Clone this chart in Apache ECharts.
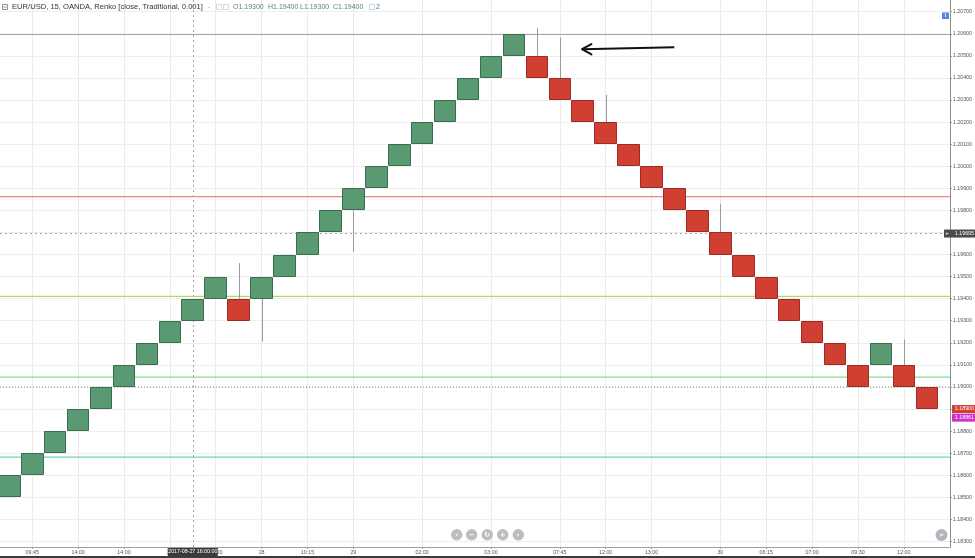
<!DOCTYPE html>
<html><head><meta charset="utf-8">
<script src="https://cdn.jsdelivr.net/npm/echarts@6/dist/echarts.min.js"></script>
<style>html,body{margin:0;padding:0;background:#fff}#c{width:975px;height:558px}</style>
</head><body><div id="c"></div>
<script>
// ---------------- data ----------------
const timeLabels = ['', '09:45', '', '14:00', '', '14:00', '', '27', '', '20:00',
  '', '28', '', '10:15', '', '29', '', '', '02:00', '',
  '', '03:00', '', '', '07:45', '', '12:00', '', '13:00', '',
  '', '30', '', '06:15', '', '07:00', '', '09:30', '', '12:00', ''];
const brickOpen = [1.185, 1.186, 1.187, 1.188, 1.189, 1.190, 1.191, 1.192, 1.193, 1.194,
  1.194, 1.194, 1.195, 1.196, 1.197, 1.198, 1.199, 1.200, 1.201, 1.202,
  1.203, 1.204, 1.205, 1.205, 1.204, 1.203, 1.202, 1.201, 1.200, 1.199,
  1.198, 1.197, 1.196, 1.195, 1.194, 1.193, 1.192, 1.191, 1.191, 1.191, 1.190];
const brickClose = [1.186, 1.187, 1.188, 1.189, 1.190, 1.191, 1.192, 1.193, 1.194, 1.195,
  1.193, 1.195, 1.196, 1.197, 1.198, 1.199, 1.200, 1.201, 1.202, 1.203,
  1.204, 1.205, 1.206, 1.204, 1.203, 1.202, 1.201, 1.200, 1.199, 1.198,
  1.197, 1.196, 1.195, 1.194, 1.193, 1.192, 1.191, 1.190, 1.192, 1.190, 1.189];
const wickHigh = [null, null, null, null, null, null, null, null, null, null,
  1.19561, null, null, null, null, null, null, null, null, null,
  null, null, null, 1.20626, 1.20583, null, 1.20323, null, null, null,
  null, 1.19829, null, null, null, null, null, null, null, 1.19215, null];
const wickLow = [null, null, null, null, null, null, null, null, null, null,
  null, 1.19206, null, null, null, 1.19612, null, null, null, null,
  null, null, null, null, null, null, null, null, null, null,
  null, null, null, null, null, null, null, null, null, null, null];
const priceTicks = [1.183, 1.184, 1.185, 1.186, 1.187, 1.188, 1.189, 1.190, 1.191, 1.192,
  1.193, 1.194, 1.195, 1.196, 1.197, 1.198, 1.199, 1.200, 1.201, 1.202,
  1.203, 1.204, 1.205, 1.206, 1.207];
const levelPrices = [1.20597, 1.19862, 1.19410, 1.19045, 1.19000, 1.18682];
const crosshairIndex = 8;
const crosshairPrice = 1.19695;
const crosshairTime = '2017-08-27 16:00:00';
const lastClose = 1.18900;
const secondPrice = 1.18861;
const arrowTail = [28.99, 1.20539];
const arrowTip = [24.97, 1.20530];
const headerTitle = 'EUR/USD, 15, OANDA, Renko [close, Traditional, 0.001]';
const headerOHLC = ['O1.19300', 'H1.19400', 'L1.19300', 'C1.19400'];

// ---------------- chart ----------------
const FF = '"Liberation Sans", Arial, sans-serif';
const chart = echarts.init(document.getElementById('c'), null, {renderer: 'canvas'});
const labeledIdx = timeLabels.map((t, i) => t ? i : -1).filter(i => i >= 0);
const levelStyles = [
  {stroke: '#9c9c9c', lineWidth: 1},
  {stroke: '#ef8480', lineWidth: 1.3},
  {stroke: '#b2d964', lineWidth: 1.3},
  {stroke: '#80e280', lineWidth: 1.3},
  {stroke: '#5f9470', lineWidth: 1, lineDash: [1, 2]},
  {stroke: '#6dd4b5', lineWidth: 1.3}
];

const option = {
  animation: false,
  backgroundColor: '#ffffff',
  grid: {left: 0, right: 23, top: 0, bottom: 11},
  xAxis: {
    type: 'value', min: -0.4045, max: 41.005,
    axisLine: {show: true, onZero: false, lineStyle: {color: '#a0a0a0'}},
    axisTick: {show: true, length: 2, customValues: labeledIdx, lineStyle: {color: '#a0a0a0'}},
    axisLabel: {customValues: labeledIdx, formatter: v => timeLabels[Math.round(v)] || '',
      fontSize: 5.3, color: '#555', margin: 3, fontFamily: FF},
    splitLine: {show: true, lineStyle: {color: '#ebebeb'}}
  },
  yAxis: {
    type: 'value', position: 'right', min: 1.18275, max: 1.20753,
    axisLine: {show: true, onZero: false, lineStyle: {color: '#8c8c8c'}},
    axisTick: {show: true, length: 2, customValues: priceTicks, lineStyle: {color: '#8c8c8c'}},
    axisLabel: {customValues: priceTicks, formatter: v => v.toFixed(5),
      fontSize: 5.3, color: '#555', margin: 3, fontFamily: FF},
    splitLine: {show: true, lineStyle: {color: '#eeeeee'}}
  },
  series: [
    {
      type: 'line', data: [], z: 1, silent: true,
      markLine: {
        silent: true, symbol: 'none', precision: 6, label: {show: false},
        data: [
          {xAxis: crosshairIndex, lineStyle: {color: '#a3a3a3', width: 1, type: [2, 3]}},
          {yAxis: crosshairPrice, lineStyle: {color: '#a3a3a3', width: 1, type: [2, 3]}}
        ]
      }
    },
    {
      type: 'custom', z: 4, silent: true,
      data: levelPrices.map((p, k) => [k, p]),
      encode: {y: 1},
      renderItem: function (params, api) {
        const k = api.value(0), p = api.value(1);
        const cs = params.coordSys;
        const y = api.coord([0, p])[1];
        return {type: 'line', shape: {x1: cs.x, y1: y, x2: cs.x + cs.width, y2: y},
          style: Object.assign({}, levelStyles[k])};
      }
    },
    {
      type: 'custom', z: 10, silent: true,
      data: brickOpen.map((o, i) => [i, o, brickClose[i]]),
      encode: {x: 0, y: [1, 2]},
      renderItem: function (params, api) {
        const idx = params.dataIndex;
        const i = api.value(0), o = api.value(1), c = api.value(2);
        const hi = Math.max(o, c), lo = Math.min(o, c);
        const up = c > o;
        const p1 = api.coord([i - 0.492, hi]);
        const p2 = api.coord([i + 0.492, lo]);
        const children = [];
        const cx = Math.round(api.coord([i, hi])[0]) + 0.5;
        if (wickHigh[idx] != null) {
          const a = api.coord([i, hi]), b = api.coord([i, wickHigh[idx]]);
          children.push({type: 'line', shape: {x1: cx, y1: a[1], x2: cx, y2: b[1]},
            style: {stroke: '#9a9a9a', lineWidth: 1}});
        }
        if (wickLow[idx] != null) {
          const a = api.coord([i, lo]), b = api.coord([i, wickLow[idx]]);
          children.push({type: 'line', shape: {x1: cx, y1: a[1], x2: cx, y2: b[1]},
            style: {stroke: '#9a9a9a', lineWidth: 1}});
        }
        const x0 = Math.round(p1[0]) + 0.5, y0 = Math.round(p1[1]) + 0.5;
        const x1 = Math.round(p2[0]) - 0.5, y1 = Math.round(p2[1]) - 0.5;
        children.push({type: 'rect', shape: {x: x0, y: y0, width: x1 - x0, height: y1 - y0},
          style: {fill: up ? '#5a9a72' : '#d13f32', stroke: up ? '#3b6c4d' : '#9c2b23', lineWidth: 1}});
        return {type: 'group', children: children};
      }
    }
  ]
};
chart.setOption(option);

// ---------------- overlays ----------------
const px = (x, y) => chart.convertToPixel({gridIndex: 0}, [x, y]);
const yLast = px(0, lastClose)[1];
const ySecond = px(0, secondPrice)[1];
const yCross = px(0, crosshairPrice)[1];
const xCross = px(crosshairIndex, 0)[0];
const tail = px(arrowTail[0], arrowTail[1]);
const tip = px(arrowTip[0], arrowTip[1]);

function priceBox(y, bg, txt, x0) {
  return [
    {type: 'rect', shape: {x: x0, y: y - 4, width: 975 - x0, height: 8}, style: {fill: bg}, z: 50},
    {type: 'text', x: 974, y: y, z: 51,
      style: {text: txt, fill: '#fff', font: '5.3px ' + FF, textAlign: 'right', textVerticalAlign: 'middle'}}
  ];
}

const navX = [456.7, 471.7, 487.3, 502.7, 518.3];
const navGlyph = ['‹', '−', '↻', '+', '›'];
const graphics = [];
// header
graphics.push({type: 'rect', shape: {x: 2.5, y: 4.5, width: 5, height: 5}, style: {fill: '#fff', stroke: '#777', lineWidth: 0.8}, z: 60});
graphics.push({type: 'line', shape: {x1: 3.5, y1: 7, x2: 6.5, y2: 7}, style: {stroke: '#777', lineWidth: 0.8}, z: 61});
graphics.push({type: 'text', x: 12, y: 7, z: 60,
  style: {text: headerTitle, fill: '#333', font: '7.6px ' + FF, textVerticalAlign: 'middle'}});
graphics.push({type: 'text', x: 208, y: 7, z: 60,
  style: {text: '-', fill: '#aaa', font: '7px ' + FF, textVerticalAlign: 'middle'}});
graphics.push({type: 'rect', shape: {x: 216.5, y: 4.5, width: 5, height: 5}, style: {fill: '#fff', stroke: '#cfcfcf', lineWidth: 0.8}, z: 60});
graphics.push({type: 'rect', shape: {x: 223.5, y: 4.5, width: 5, height: 5}, style: {fill: '#fff', stroke: '#cfcfcf', lineWidth: 0.8}, z: 60});
const ohlcX = [233, 268, 300, 333];
headerOHLC.forEach((t, k) => graphics.push({type: 'text', x: ohlcX[k], y: 7, z: 60,
  style: {text: t, fill: '#4f8d62', font: '7px ' + FF, textVerticalAlign: 'middle'}}));
graphics.push({type: 'rect', shape: {x: 369.5, y: 4.5, width: 5, height: 5}, style: {fill: '#fff', stroke: '#c8c8c8', lineWidth: 0.8}, z: 60});
graphics.push({type: 'text', x: 376, y: 7, z: 60,
  style: {text: '2', fill: '#2f7fd6', font: '7px ' + FF, textVerticalAlign: 'middle'}});
// info icon
graphics.push({type: 'rect', shape: {x: 942, y: 12.5, width: 7, height: 6.5}, style: {fill: '#4f8ad8'}, z: 60});
graphics.push({type: 'text', x: 945.5, y: 15.8, z: 61,
  style: {text: 'i', fill: '#fff', font: 'bold 6px ' + FF, textAlign: 'center', textVerticalAlign: 'middle'}});
// price labels
graphics.push(...priceBox(yLast, '#d13f32', lastClose.toFixed(5), 952));
graphics.push(...priceBox(ySecond, '#cf2fcf', secondPrice.toFixed(5), 952));
graphics.push(...priceBox(yCross, '#4a4a4a', crosshairPrice.toFixed(5), 944));
graphics.push({type: 'text', x: 947, y: yCross, z: 52,
  style: {text: '+', fill: '#fff', font: '6px ' + FF, textAlign: 'center', textVerticalAlign: 'middle'}});
// time label
graphics.push({type: 'rect', shape: {x: xCross - 25, y: 548, width: 50, height: 8}, style: {fill: '#3a3a3a'}, z: 50});
graphics.push({type: 'text', x: xCross, y: 552, z: 51,
  style: {text: crosshairTime, fill: '#fff', font: '5.3px ' + FF, textAlign: 'center', textVerticalAlign: 'middle'}});
// bottom strip
graphics.push({type: 'rect', shape: {x: 0, y: 556, width: 975, height: 2}, style: {fill: '#3c3c3c'}, z: 40});
// nav buttons
navX.forEach((x, k) => {
  graphics.push({type: 'circle', shape: {cx: x, cy: 534.7, r: 5.7}, style: {fill: '#bdbdbd'}, z: 60});
  graphics.push({type: 'text', x: x, y: 534.7, z: 61,
    style: {text: navGlyph[k], fill: '#fff', font: 'bold 7px "DejaVu Sans"', textAlign: 'center', textVerticalAlign: 'middle'}});
});
graphics.push({type: 'circle', shape: {cx: 941.5, cy: 535, r: 6}, style: {fill: '#b4b4bc'}, z: 60});
graphics.push({type: 'text', x: 941.5, y: 535, z: 61,
  style: {text: '»', fill: '#fff', font: 'bold 7px "DejaVu Sans"', textAlign: 'center', textVerticalAlign: 'middle'}});
// annotation arrow
graphics.push({type: 'polyline', z: 70,
  shape: {points: [[tail[0], tail[1]], [tip[0], tip[1]]]},
  style: {stroke: '#111', lineWidth: 2, fill: null}});
graphics.push({type: 'polyline', z: 70,
  shape: {points: [[tip[0] + 9.4, tip[1] - 5.2], [tip[0], tip[1]], [tip[0] + 9.4, tip[1] + 5.2]]},
  style: {stroke: '#111', lineWidth: 2, fill: null, lineJoin: 'round', lineCap: 'round'}});

chart.setOption({graphic: graphics});
</script>
</body></html>
